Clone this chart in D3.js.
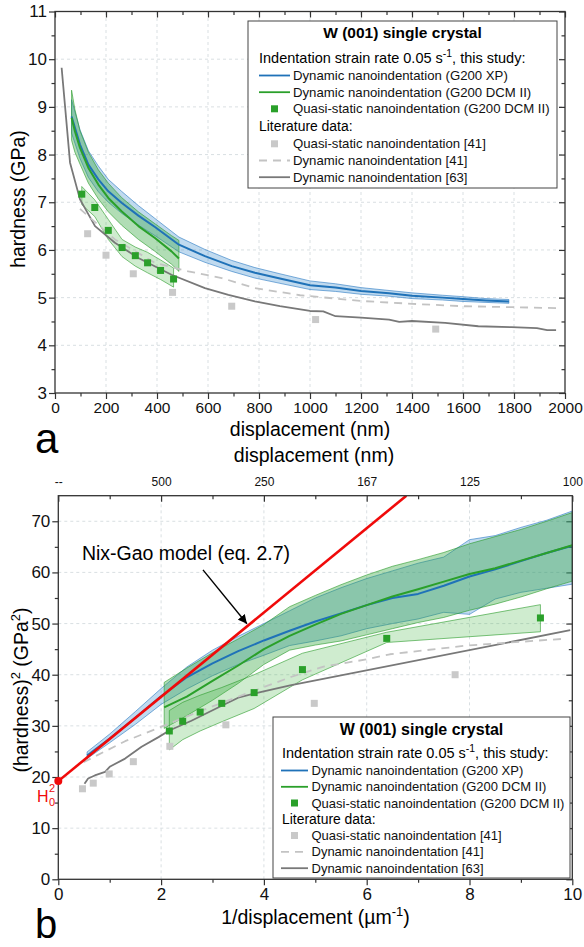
<!DOCTYPE html>
<html>
<head>
<meta charset="utf-8">
<script src="https://cdn.jsdelivr.net/npm/d3@7"></script>
<style>
  body { margin: 0; background: #fff; }
</style>
</head>
<body>
<div id="chart"></div>
<script>
const FONT = "'Liberation Sans', Arial, Helvetica, sans-serif";

// ---- panel a: hardness (GPa) vs displacement (nm) ----
const xpDepth = [65, 98, 131, 170, 209, 261, 327, 392, 486, 588, 693, 784, 882, 1000, 1100, 1200, 1310, 1400, 1520, 1600, 1690, 1780];
const xpHard = [8.80, 8.21, 7.79, 7.48, 7.23, 6.99, 6.72, 6.48, 6.11, 5.87, 5.66, 5.52, 5.40, 5.26, 5.21, 5.14, 5.09, 5.04, 5.00, 4.97, 4.94, 4.92];
const xpHardHi = [9.15, 8.52, 8.08, 7.76, 7.48, 7.23, 6.93, 6.66, 6.27, 6.01, 5.78, 5.63, 5.50, 5.35, 5.29, 5.21, 5.15, 5.10, 5.05, 5.02, 4.98, 4.96];
const xpHardLo = [8.45, 7.92, 7.52, 7.22, 7.00, 6.77, 6.52, 6.30, 5.96, 5.74, 5.55, 5.41, 5.30, 5.17, 5.13, 5.07, 5.03, 4.98, 4.95, 4.92, 4.90, 4.88];

const dcmDepth = [65, 78, 98, 131, 170, 209, 261, 327, 392, 457, 486];
const dcmHard = [8.77, 8.49, 8.14, 7.72, 7.37, 7.09, 6.81, 6.50, 6.25, 5.97, 5.82];
const dcmHardHi = [9.35, 8.95, 8.50, 8.05, 7.68, 7.40, 7.10, 6.80, 6.55, 6.30, 6.20];
const dcmHardLo = [8.30, 8.05, 7.80, 7.40, 7.07, 6.80, 6.52, 6.22, 5.97, 5.70, 5.55];

const qsDepth = [105, 156, 209, 263, 315, 363, 414, 465];
const qsHard = [7.17, 6.89, 6.41, 6.05, 5.88, 5.73, 5.57, 5.39];
const qsHardHi = [7.33, 7.05, 6.64, 6.22, 6.06, 5.95, 5.79, 5.62];
const qsHardLo = [6.95, 6.70, 6.22, 5.86, 5.66, 5.52, 5.38, 5.22];

const lit41QsDepth = [128, 200, 307, 461, 693, 1022, 1493];
const lit41QsHard = [6.34, 5.89, 5.50, 5.11, 4.82, 4.54, 4.34];

const lit41DynDepth = [98, 235, 392, 523, 654, 784, 961, 1200, 1400, 1600, 1790, 1965];
const lit41DynHard = [6.86, 6.22, 5.73, 5.55, 5.41, 5.20, 5.05, 4.93, 4.87, 4.82, 4.80, 4.78];

const lit63Depth = [26, 59, 98, 157, 235, 327, 457, 588, 680, 784, 882, 1000, 1052, 1100, 1200, 1310, 1350, 1400, 1530, 1660, 1790, 1890, 1930, 1965];
const lit63Hard = [9.82, 7.83, 7.06, 6.50, 6.15, 5.83, 5.48, 5.20, 5.06, 4.92, 4.82, 4.72, 4.71, 4.61, 4.58, 4.54, 4.49, 4.51, 4.47, 4.40, 4.38, 4.36, 4.32, 4.32];

// ---- panel b: hardness^2 (GPa^2) vs 1/displacement (um^-1) ----
const xpInv = [0.56, 0.8, 1.0, 1.5, 2.0, 2.5, 3.0, 3.5, 4.0, 4.5, 5.0, 5.5, 6.0, 6.5, 7.0, 7.5, 8.0, 8.5, 9.0, 9.5, 10.0];
const xpSq = [24.2, 26.0, 27.5, 31.6, 35.8, 39.5, 42.2, 44.6, 46.7, 48.6, 50.4, 52.0, 53.6, 55.0, 55.8, 57.4, 59.2, 60.6, 62.2, 63.8, 65.2];
const xpSqHi = [24.9, 26.8, 28.4, 32.8, 37.3, 41.5, 44.8, 47.5, 50.0, 52.5, 55.0, 57.0, 58.8, 60.3, 61.8, 63.0, 66.4, 67.2, 68.8, 70.2, 72.0];
const xpSqLo = [23.6, 25.3, 26.7, 30.3, 34.2, 37.2, 39.8, 42.0, 43.8, 45.7, 46.6, 47.6, 49.0, 50.0, 50.9, 52.2, 51.8, 54.8, 56.1, 56.9, 57.7];

const dcmInv = [2.06, 2.5, 3.0, 3.5, 4.0, 4.5, 5.0, 5.5, 6.0, 6.5, 7.0, 7.5, 8.0, 8.5, 9.0, 9.5, 10.0];
const dcmSq = [33.6, 35.7, 38.8, 41.8, 45.0, 47.6, 49.8, 51.9, 53.6, 55.3, 56.7, 58.2, 59.7, 60.8, 62.3, 63.8, 65.3];
const dcmSqHi = [38.5, 41.3, 44.3, 47.0, 49.8, 53.3, 55.5, 57.6, 59.5, 61.2, 62.5, 63.9, 65.6, 67.0, 68.4, 70.0, 71.7];
const dcmSqLo = [29.5, 32.0, 35.0, 38.3, 42.0, 44.8, 45.8, 46.6, 47.8, 49.0, 50.2, 51.2, 52.6, 53.8, 55.2, 56.8, 58.3];

const qsInv = [2.16, 2.42, 2.76, 3.18, 3.81, 4.75, 6.39, 9.38];
const qsSq = [29.0, 30.9, 32.7, 34.4, 36.5, 41.0, 47.1, 51.1];
const qsSqHi = [33.0, 34.6, 36.0, 37.5, 40.0, 44.2, 48.3, 53.7];
const qsSqLo = [25.3, 27.3, 29.0, 30.8, 33.4, 39.0, 46.3, 48.4];

const lit41QsInv = [0.47, 0.68, 0.99, 1.46, 2.17, 3.26, 4.98, 7.72];
const lit41QsSq = [17.7, 18.8, 20.6, 23.0, 26.0, 30.2, 34.4, 40.0];

const lit41DynInv = [0.49, 1.30, 1.95, 2.79, 3.63, 4.54, 5.16, 6.0, 6.45, 7.95, 9.8];
const lit41DynSq = [22.9, 27.0, 29.6, 33.0, 36.2, 39.6, 41.6, 43.0, 44.0, 45.7, 47.0];

const lit63Inv = [0.51, 0.58, 0.71, 0.91, 1.0, 1.30, 1.62, 1.95, 2.16, 2.59, 3.11, 3.50, 3.89, 4.51, 9.96];
const lit63Sq = [18.7, 19.7, 20.3, 21.0, 22.0, 23.6, 25.9, 27.8, 29.1, 31.0, 33.6, 35.5, 36.5, 37.9, 48.7];

// Nix-Gao fit: H^2 = H0^2 + slope * (1/h)
const nixGaoH0sq = 19.2;
const nixGaoSlope = 8.24;

const topAxisB = [0, 2, 4, 6, 8, 10];
const topAxisBLabels = ["--", "500", "250", "167", "125", "100"];

const legendLabels = [
    "Dynamic nanoindentation (G200 XP)",
    "Dynamic nanoindentation (G200 DCM II)",
    "Quasi-static nanoindentation (G200 DCM II)",
    "Quasi-static nanoindentation [41]",
    "Dynamic nanoindentation [41]",
    "Dynamic nanoindentation [63]"
];

const C = {
    blue: "#1f72b8", blueFill: "rgba(60,140,205,0.32)", blueEdge: "rgba(40,120,195,0.75)",
    green: "#2aa02a", greenFill: "rgba(50,165,60,0.38)", greenEdge: "rgba(40,155,40,0.75)",
    qsFill: "rgba(70,180,70,0.26)",
    gray: "#787878", dash: "#c3c3c3", graySq: "#c9c9c9", red: "#f00a0a", axis: "#333"
};

const width = 584, height = 947;
const svg = d3.select("#chart").append("svg")
    .attr("width", width)
    .attr("height", height)
    .style("font-family", FONT);

const rows = (xs, ys, lo, hi) => xs.map((v, i) => ({x: v, y: ys[i], lo: lo ? lo[i] : 0, hi: hi ? hi[i] : 0}));

function styleAxis(sel, fs) {
    sel.select(".domain").remove();
    sel.attr("font-family", null).attr("font-size", null);
    sel.selectAll(".tick line").attr("stroke", C.axis).attr("stroke-width", 1.2);
    sel.selectAll("text").attr("font-size", fs).attr("fill", "#111");
}

function drawAxes(x, y, o) {
    const [x0, x1] = x.range(), [y0, y1] = y.range();
    const grid = svg.append("g")
        .attr("stroke", "#cfd7db")
        .attr("stroke-width", 0.8)
        .attr("stroke-dasharray", "3,3");
    o.xGrid.forEach(v => grid.append("line").attr("x1", x(v)).attr("x2", x(v)).attr("y1", y0).attr("y2", y1));
    o.yGrid.forEach(v => grid.append("line").attr("x1", x0).attr("x2", x1).attr("y1", y(v)).attr("y2", y(v)));

    // bottom
    svg.append("g").attr("transform", `translate(0,${y0})`)
        .call(d3.axisBottom(x).tickValues(o.xMajor).tickSize(6).tickPadding(3).tickFormat(d3.format("d")))
        .call(s => styleAxis(s, o.xFs));
    svg.append("g").attr("transform", `translate(0,${y0})`)
        .call(d3.axisBottom(x).tickValues(o.xMinor).tickSize(3.5).tickFormat(""))
        .call(s => styleAxis(s, 0));
    // left
    svg.append("g").attr("transform", `translate(${x0},0)`)
        .call(d3.axisLeft(y).tickValues(o.yMajor).tickSize(6).tickPadding(2).tickFormat(d3.format("d")))
        .call(s => styleAxis(s, o.yFs));
    svg.append("g").attr("transform", `translate(${x0},0)`)
        .call(d3.axisLeft(y).tickValues(o.yMinor).tickSize(3.5).tickFormat(""))
        .call(s => styleAxis(s, 0));
    // top (inward)
    const top = d3.axisTop(x).tickValues(o.xMajor).tickSize(-6).tickPadding(10);
    if (o.topLabels) top.tickValues(o.topTicks).tickFormat((d, i) => o.topLabels[i]);
    else top.tickFormat("");
    svg.append("g").attr("transform", `translate(0,${y1})`)
        .call(top)
        .call(s => styleAxis(s, 12));
    svg.append("g").attr("transform", `translate(0,${y1})`)
        .call(d3.axisTop(x).tickValues(o.xMinor).tickSize(-3.5).tickFormat(""))
        .call(s => styleAxis(s, 0));
    // right (inward)
    svg.append("g").attr("transform", `translate(${x1},0)`)
        .call(d3.axisRight(y).tickValues(o.yMajor).tickSize(-6).tickFormat(""))
        .call(s => styleAxis(s, 0));
    svg.append("g").attr("transform", `translate(${x1},0)`)
        .call(d3.axisRight(y).tickValues(o.yMinor).tickSize(-3.5).tickFormat(""))
        .call(s => styleAxis(s, 0));
}

function drawFrame(x, y) {
    svg.append("rect")
        .attr("x", x.range()[0]).attr("y", y.range()[1])
        .attr("width", x.range()[1] - x.range()[0])
        .attr("height", y.range()[0] - y.range()[1])
        .attr("fill", "none").attr("stroke", C.axis).attr("stroke-width", 1.3);
}

function clipGroup(id, x, y) {
    svg.append("clipPath").attr("id", id).append("rect")
        .attr("x", x.range()[0]).attr("y", y.range()[1])
        .attr("width", x.range()[1] - x.range()[0])
        .attr("height", y.range()[0] - y.range()[1]);
    return svg.append("g").attr("clip-path", `url(#${id})`);
}

function band(g, data, x, y, fill, edge) {
    g.append("path").datum(data)
        .attr("d", d3.area().x(d => x(d.x)).y0(d => y(d.lo)).y1(d => y(d.hi)))
        .attr("fill", fill).attr("stroke", edge).attr("stroke-width", 0.8);
}

function line(g, data, x, y, color, w, dash) {
    g.append("path").datum(data)
        .attr("d", d3.line().x(d => x(d.x)).y(d => y(d.y)))
        .attr("fill", "none").attr("stroke", color).attr("stroke-width", w)
        .attr("stroke-dasharray", dash || null).attr("stroke-linejoin", "round");
}

function squares(g, data, x, y, color, s) {
    g.append("g").selectAll("rect").data(data).join("rect")
        .attr("x", d => x(d.x) - s / 2).attr("y", d => y(d.y) - s / 2)
        .attr("width", s).attr("height", s).attr("fill", color);
}

function legend(o) {
    const g = svg.append("g");
    g.append("rect").attr("x", o.x).attr("y", o.y).attr("width", o.w).attr("height", o.h)
        .attr("fill", "#fff").attr("stroke", "#444").attr("stroke-width", 1);
    g.append("text").attr("x", o.x + o.w / 2).attr("y", o.base[0])
        .attr("text-anchor", "middle").attr("font-weight", "bold").attr("font-size", o.titleFs)
        .text("W (001) single crystal");
    const intro = g.append("text").attr("x", o.textX0).attr("y", o.base[1]).attr("font-size", o.introFs);
    intro.append("tspan").text("Indentation strain rate 0.05 s");
    intro.append("tspan").attr("dy", -6).attr("font-size", o.introFs * 0.72).text("-1");
    intro.append("tspan").attr("dy", 6).text(", this study:");
    g.append("text").attr("x", o.textX0).attr("y", o.base[5]).attr("font-size", o.introFs * 0.96)
        .text("Literature data:");

    const sym = [
        {type: "line", color: C.blue},
        {type: "line", color: C.green},
        {type: "sq", color: C.green},
        {type: "sq", color: C.graySq},
        {type: "dash", color: C.dash},
        {type: "line", color: C.gray}
    ];
    const rowIdx = [2, 3, 4, 6, 7, 8];
    sym.forEach((s, i) => {
        const by = o.base[rowIdx[i]];
        const cy = by - 4.5;
        if (s.type === "sq") {
            g.append("rect").attr("x", (o.sx0 + o.sx1) / 2 - 3.5).attr("y", cy - 3.5)
                .attr("width", 7).attr("height", 7).attr("fill", s.color);
        } else {
            g.append("line").attr("x1", o.sx0).attr("x2", o.sx1).attr("y1", cy).attr("y2", cy)
                .attr("stroke", s.color).attr("stroke-width", 1.8)
                .attr("stroke-dasharray", s.type === "dash" ? "8,6" : null);
        }
        g.append("text").attr("x", o.tx).attr("y", by).attr("font-size", o.itemFs)
            .attr("fill", "#111").text(legendLabels[i]);
    });
}

// =================== panel a ===================
const xa = d3.scaleLinear().domain([0, 2000]).range([55, 565]);
const ya = d3.scaleLinear().domain([3, 11]).range([393, 11.5]);

drawAxes(xa, ya, {
    xMajor: d3.range(0, 2001, 200), xMinor: d3.range(100, 2000, 200),
    yMajor: d3.range(3, 12, 1), yMinor: d3.range(3.5, 11, 1),
    xGrid: d3.range(200, 2000, 200), yGrid: d3.range(4, 11, 1),
    xFs: 15.5, yFs: 17
});

const ga = clipGroup("clip-a", xa, ya);
band(ga, rows(xpDepth, xpHard, xpHardLo, xpHardHi), xa, ya, C.blueFill, C.blueEdge);
band(ga, rows(dcmDepth, dcmHard, dcmHardLo, dcmHardHi), xa, ya, C.greenFill, C.greenEdge);
band(ga, rows(qsDepth, qsHard, qsHardLo, qsHardHi), xa, ya, C.qsFill, C.greenEdge);
line(ga, rows(lit63Depth, lit63Hard), xa, ya, C.gray, 1.8);
line(ga, rows(lit41DynDepth, lit41DynHard), xa, ya, C.dash, 1.8, "8,6");
line(ga, rows(xpDepth, xpHard), xa, ya, C.blue, 2);
line(ga, rows(dcmDepth, dcmHard), xa, ya, C.green, 2);
squares(ga, rows(lit41QsDepth, lit41QsHard), xa, ya, C.graySq, 7);
squares(ga, rows(qsDepth, qsHard), xa, ya, C.green, 7);
drawFrame(xa, ya);

svg.append("text").attr("transform", "translate(25,199) rotate(-90)")
    .attr("text-anchor", "middle").attr("font-size", 19.5).text("hardness (GPa)");
svg.append("text").attr("x", 310).attr("y", 436)
    .attr("text-anchor", "middle").attr("font-size", 19.5).text("displacement (nm)");
svg.append("text").attr("x", 35).attr("y", 453).attr("font-size", 42).text("a");

legend({
    x: 248, y: 21, w: 309, h: 167,
    base: [38.3, 63.3, 80, 96.7, 113.3, 130.7, 148.3, 165, 181.7],
    textX0: 259, sx0: 259, sx1: 290, tx: 293,
    titleFs: 15.5, introFs: 14.5, itemFs: 13.2
});

// =================== panel b ===================
const xb = d3.scaleLinear().domain([0, 10]).range([58.3, 572.3]);
const yb = d3.scaleLinear().domain([0, 75]).range([879.3, 495.7]);

drawAxes(xb, yb, {
    xMajor: d3.range(0, 11, 2), xMinor: d3.range(1, 10, 2),
    yMajor: d3.range(0, 71, 10), yMinor: d3.range(5, 75, 10),
    xGrid: [2, 4, 6, 8], yGrid: d3.range(10, 71, 10),
    xFs: 17, yFs: 17,
    topTicks: topAxisB, topLabels: topAxisBLabels
});

const gb = clipGroup("clip-b", xb, yb);
band(gb, rows(xpInv, xpSq, xpSqLo, xpSqHi), xb, yb, C.blueFill, C.blueEdge);
band(gb, rows(dcmInv, dcmSq, dcmSqLo, dcmSqHi), xb, yb, C.greenFill, C.greenEdge);
band(gb, rows(qsInv, qsSq, qsSqLo, qsSqHi), xb, yb, C.qsFill, C.greenEdge);
line(gb, rows(lit63Inv, lit63Sq), xb, yb, C.gray, 1.8);
line(gb, rows(lit41DynInv, lit41DynSq), xb, yb, C.dash, 1.8, "8,6");
line(gb, rows(xpInv, xpSq), xb, yb, C.blue, 2);
line(gb, rows(dcmInv, dcmSq), xb, yb, C.green, 2);
squares(gb, rows(lit41QsInv, lit41QsSq), xb, yb, C.graySq, 7);
squares(gb, rows(qsInv, qsSq), xb, yb, C.green, 7);

// Nix-Gao line
const xEnd = (75 - nixGaoH0sq) / nixGaoSlope;
const nixRows = [0, xEnd].map(v => ({x: v, y: nixGaoH0sq + nixGaoSlope * v}));
line(gb, nixRows, xb, yb, C.red, 2.6);
drawFrame(xb, yb);
svg.append("circle").attr("cx", xb(0)).attr("cy", yb(nixGaoH0sq)).attr("r", 4).attr("fill", C.red);

// H0^2 label
svg.append("text").attr("x", 37).attr("y", 801.7).attr("font-size", 16).attr("fill", C.red).text("H");
svg.append("text").attr("x", 49).attr("y", 792).attr("font-size", 11).attr("fill", C.red).text("2");
svg.append("text").attr("x", 49).attr("y", 805.5).attr("font-size", 11).attr("fill", C.red).text("0");

// annotation
svg.append("defs").append("marker").attr("id", "arrow")
    .attr("viewBox", "0 0 10 10").attr("refX", 10).attr("refY", 5)
    .attr("markerWidth", 9).attr("markerHeight", 9).attr("markerUnits", "userSpaceOnUse")
    .attr("orient", "auto")
    .append("path").attr("d", "M0,0 L10,5 L0,10 z").attr("fill", "#000");
svg.append("line")
    .attr("x1", xb(2.815)).attr("y1", yb(60.5))
    .attr("x2", xb(3.67)).attr("y2", yb(49.96))
    .attr("stroke", "#000").attr("stroke-width", 1.4).attr("marker-end", "url(#arrow)");
svg.append("text").attr("x", xb(0.46)).attr("y", yb(62.4)).attr("font-size", 19.5)
    .text("Nix-Gao model (eq. 2.7)");

// axis titles
const yt = svg.append("text").attr("transform", "translate(27.5,690) rotate(-90)")
    .attr("text-anchor", "middle").attr("font-size", 19.5);
yt.append("tspan").text("(hardness)");
yt.append("tspan").attr("dy", -8).attr("font-size", 13).text("2");
yt.append("tspan").attr("dy", 8).text(" (GPa");
yt.append("tspan").attr("dy", -8).attr("font-size", 13).text("2");
yt.append("tspan").attr("dy", 8).text(")");

const xt = svg.append("text").attr("x", 315.5).attr("y", 924)
    .attr("text-anchor", "middle").attr("font-size", 19.5);
xt.append("tspan").text("1/displacement (\u00b5m");
xt.append("tspan").attr("dy", -8).attr("font-size", 13).text("-1");
xt.append("tspan").attr("dy", 8).text(")");

svg.append("text").attr("x", 314).attr("y", 462)
    .attr("text-anchor", "middle").attr("font-size", 19.5).text("displacement (nm)");
svg.append("text").attr("x", 35).attr("y", 938).attr("font-size", 40).text("b");

legend({
    x: 273, y: 717, w: 297, h: 161,
    base: [735, 758.3, 775, 791.3, 807.5, 823.8, 840, 856.4, 872.7],
    textX0: 282, sx0: 281, sx1: 308, tx: 311.5,
    titleFs: 16, introFs: 14.5, itemFs: 13
});
</script>
</body>
</html>
